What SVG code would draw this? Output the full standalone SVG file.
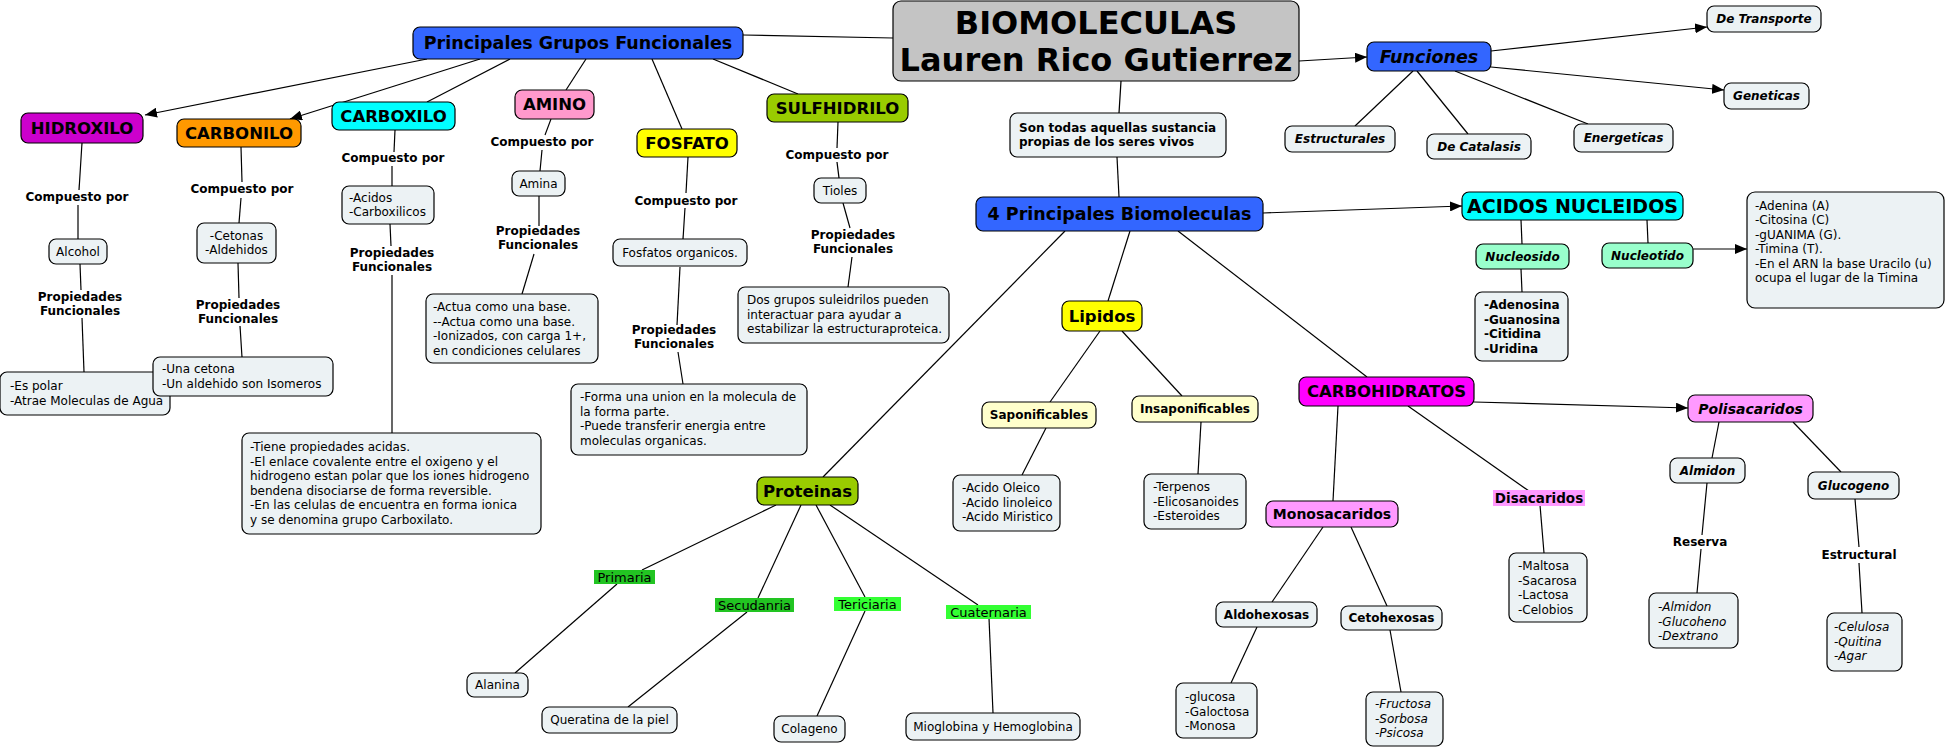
<svg xmlns="http://www.w3.org/2000/svg" width="1947" height="748" viewBox="0 0 1947 748">
<style>
text{font-family:"DejaVu Sans","Verdana",sans-serif;fill:#000}
.t{font-size:12px}
.b{font-size:12px;font-weight:bold}
.bi{font-size:12px;font-weight:bold;font-style:italic}
.i{font-size:12px;font-style:italic}
.c{text-anchor:middle}
.h16{font-size:16.5px;font-weight:bold;text-anchor:middle}
.h17{font-size:17.5px;font-weight:bold;text-anchor:middle}
.box{stroke:#000;stroke-width:1.2}
.w{fill:#ecf2f4}
.con line{stroke:#000;stroke-width:1.2}
</style>
<defs>
<marker id="ar" markerUnits="userSpaceOnUse" markerWidth="13" markerHeight="10" refX="12" refY="5" orient="auto"><path d="M0,0 L12,5 L0,10 z" fill="#000"/></marker>
</defs>
<rect width="1947" height="748" fill="#fff"/>
<g class="con">
<line x1="427" y1="59" x2="145" y2="115" marker-end="url(#ar)"/>
<line x1="480" y1="59" x2="290" y2="119" marker-end="url(#ar)"/>
<line x1="510" y1="59" x2="427" y2="102"/>
<line x1="586" y1="59" x2="566" y2="90"/>
<line x1="652" y1="59" x2="682" y2="129"/>
<line x1="713" y1="59" x2="798" y2="94"/>
<line x1="743" y1="35" x2="893" y2="38"/>
<line x1="82" y1="143" x2="79" y2="190"/>
<line x1="78" y1="205" x2="78" y2="239"/>
<line x1="80" y1="264" x2="81" y2="290"/>
<line x1="82" y1="318" x2="84" y2="372"/>
<line x1="241" y1="147" x2="242" y2="182"/>
<line x1="241" y1="198" x2="239" y2="223"/>
<line x1="238" y1="263" x2="239" y2="298"/>
<line x1="240" y1="326" x2="242" y2="357"/>
<line x1="395" y1="130" x2="394" y2="152"/>
<line x1="392" y1="166" x2="392" y2="186"/>
<line x1="390" y1="224" x2="391" y2="246"/>
<line x1="392" y1="275" x2="392" y2="433"/>
<line x1="551" y1="119" x2="545" y2="135"/>
<line x1="542" y1="150" x2="540" y2="171"/>
<line x1="539" y1="196" x2="539" y2="226"/>
<line x1="534" y1="254" x2="522" y2="294"/>
<line x1="688" y1="157" x2="686" y2="193"/>
<line x1="685" y1="208" x2="683" y2="239"/>
<line x1="680" y1="267" x2="677" y2="325"/>
<line x1="678" y1="352" x2="683" y2="384"/>
<line x1="838" y1="122" x2="837" y2="148"/>
<line x1="837" y1="162" x2="839" y2="178"/>
<line x1="843" y1="203" x2="850" y2="228"/>
<line x1="852" y1="257" x2="848" y2="287"/>
<line x1="1121" y1="81" x2="1119" y2="113"/>
<line x1="1117" y1="157" x2="1119" y2="197"/>
<line x1="1299" y1="61" x2="1367" y2="57" marker-end="url(#ar)"/>
<line x1="1491" y1="51" x2="1707" y2="27" marker-end="url(#ar)"/>
<line x1="1491" y1="67" x2="1724" y2="90" marker-end="url(#ar)"/>
<line x1="1455" y1="71" x2="1588" y2="124"/>
<line x1="1413" y1="71" x2="1355" y2="126"/>
<line x1="1417" y1="71" x2="1468" y2="134"/>
<line x1="1263" y1="213" x2="1462" y2="206" marker-end="url(#ar)"/>
<line x1="1065" y1="231" x2="823" y2="477"/>
<line x1="1130" y1="231" x2="1108" y2="301"/>
<line x1="1178" y1="231" x2="1367" y2="377"/>
<line x1="1521" y1="220" x2="1522" y2="244"/>
<line x1="1647" y1="220" x2="1648" y2="243"/>
<line x1="1693" y1="249" x2="1747" y2="249" marker-end="url(#ar)"/>
<line x1="1521" y1="269" x2="1522" y2="292"/>
<line x1="1100" y1="331" x2="1050" y2="402"/>
<line x1="1122" y1="331" x2="1182" y2="396"/>
<line x1="1046" y1="428" x2="1022" y2="475"/>
<line x1="1201" y1="422" x2="1198" y2="474"/>
<line x1="1474" y1="402" x2="1688" y2="408" marker-end="url(#ar)"/>
<line x1="1338" y1="406" x2="1333" y2="501"/>
<line x1="1408" y1="406" x2="1529" y2="491"/>
<line x1="1540" y1="505" x2="1544" y2="553"/>
<line x1="1323" y1="527" x2="1272" y2="602"/>
<line x1="1351" y1="527" x2="1387" y2="606"/>
<line x1="1257" y1="627" x2="1231" y2="683"/>
<line x1="1390" y1="630" x2="1401" y2="692"/>
<line x1="1719" y1="422" x2="1712" y2="458"/>
<line x1="1793" y1="422" x2="1841" y2="472"/>
<line x1="1707" y1="483" x2="1702" y2="535"/>
<line x1="1701" y1="549" x2="1697" y2="593"/>
<line x1="1855" y1="499" x2="1859" y2="547"/>
<line x1="1859" y1="563" x2="1862" y2="613"/>
<line x1="776" y1="505" x2="642" y2="570"/>
<line x1="617" y1="584" x2="515" y2="673"/>
<line x1="801" y1="505" x2="758" y2="598"/>
<line x1="747" y1="612" x2="628" y2="707"/>
<line x1="816" y1="505" x2="865" y2="597"/>
<line x1="865" y1="611" x2="817" y2="716"/>
<line x1="830" y1="505" x2="978" y2="605"/>
<line x1="989" y1="618" x2="993" y2="713"/>
</g>

<g id="biomoleculas"><rect class="box" x="893" y="1" width="406" height="80" rx="8" fill="#c4c4c4"/><text x="1096" y="34" font-size="32" font-weight="bold" text-anchor="middle">BIOMOLECULAS</text><text x="1096" y="71" font-size="32" font-weight="bold" text-anchor="middle">Lauren Rico Gutierrez</text></g>
<g id="pgf"><rect class="box" x="413" y="27" width="330" height="32" rx="7" fill="#3366ff"/><text class="h17" x="578" y="49">Principales Grupos Funcionales</text></g>
<g id="hidroxilo"><rect class="box" x="21" y="113" width="122" height="30" rx="7" fill="#cc00cc"/><text class="h16" x="82" y="134">HIDROXILO</text></g>
<g id="carbonilo"><rect class="box" x="177" y="119" width="124" height="28" rx="7" fill="#ff9900"/><text class="h16" x="239" y="139">CARBONILO</text></g>
<g id="carboxilo"><rect class="box" x="332" y="102" width="123" height="28" rx="7" fill="#00ffff"/><text class="h16" x="393.5" y="122">CARBOXILO</text></g>
<g id="amino"><rect class="box" x="515" y="90" width="79" height="29" rx="7" fill="#ff99cc"/><text class="h16" x="554.5" y="110">AMINO</text></g>
<g id="fosfato"><rect class="box" x="637" y="129" width="100" height="28" rx="7" fill="#ffff00"/><text class="h16" x="687" y="149">FOSFATO</text></g>
<g id="sulfhidrilo"><rect class="box" x="767" y="94" width="141" height="28" rx="7" fill="#99cc00"/><text class="h16" x="837.5" y="114">SULFHIDRILO</text></g>

<g id="lbl-hid-comp"><text class="b c" x="77" y="201">Compuesto por</text></g>
<g id="lbl-cbn-comp"><text class="b c" x="242" y="193">Compuesto por</text></g>
<g id="lbl-cbx-comp"><text class="b c" x="393" y="162">Compuesto por</text></g>
<g id="lbl-ami-comp"><text class="b c" x="542" y="146">Compuesto por</text></g>
<g id="lbl-fos-comp"><text class="b c" x="686" y="205">Compuesto por</text></g>
<g id="lbl-sul-comp"><text class="b c" x="837" y="159">Compuesto por</text></g>
<g id="lbl-hid-prop"><text class="b c" x="80" y="301">Propiedades</text><text class="b c" x="80" y="315">Funcionales</text></g>
<g id="lbl-cbn-prop"><text class="b c" x="238" y="309">Propiedades</text><text class="b c" x="238" y="323">Funcionales</text></g>
<g id="lbl-cbx-prop"><text class="b c" x="392" y="257">Propiedades</text><text class="b c" x="392" y="271">Funcionales</text></g>
<g id="lbl-ami-prop"><text class="b c" x="538" y="235">Propiedades</text><text class="b c" x="538" y="249">Funcionales</text></g>
<g id="lbl-fos-prop"><text class="b c" x="674" y="334">Propiedades</text><text class="b c" x="674" y="348">Funcionales</text></g>
<g id="lbl-sul-prop"><text class="b c" x="853" y="239">Propiedades</text><text class="b c" x="853" y="253">Funcionales</text></g>

<g id="alcohol"><rect class="box w" x="49" y="239" width="58" height="25" rx="7"/><text class="t c" x="78" y="256">Alcohol</text></g>
<g id="cetonas"><rect class="box w" x="197" y="223" width="79" height="40" rx="7"/><text class="t c" x="236.5" y="240">-Cetonas</text><text class="t c" x="236.5" y="254">-Aldehidos</text></g>
<g id="acidos"><rect class="box w" x="342" y="186" width="92" height="38" rx="7"/><text class="t" x="349" y="202">-Acidos</text><text class="t" x="349" y="216">-Carboxilicos</text></g>
<g id="amina"><rect class="box w" x="512" y="171" width="53" height="25" rx="7"/><text class="t c" x="538.5" y="188">Amina</text></g>
<g id="fosfatos"><rect class="box w" x="613" y="239" width="134" height="27" rx="7"/><text class="t c" x="680" y="257">Fosfatos organicos.</text></g>
<g id="tioles"><rect class="box w" x="814" y="178" width="52" height="25" rx="7"/><text class="t c" x="840" y="195">Tioles</text></g>
<g id="espolar"><rect class="box w" x="0" y="372" width="170" height="43" rx="7"/><text class="t" x="10" y="390">-Es polar</text><text class="t" x="10" y="405">-Atrae Moleculas de Agua</text></g>
<g id="unacetona"><rect class="box w" x="153" y="357" width="180" height="39" rx="7"/><text class="t" x="162" y="373">-Una cetona</text><text class="t" x="162" y="388">-Un aldehido son Isomeros</text></g>
<g id="tiene"><rect class="box w" x="242" y="433" width="299" height="101" rx="7"/><text class="t" x="250" y="451">-Tiene propiedades acidas.</text><text class="t" x="250" y="465.6">-El enlace covalente entre el oxigeno y el</text><text class="t" x="250" y="480.2">hidrogeno estan polar que los iones hidrogeno</text><text class="t" x="250" y="494.8">bendena disociarse de forma reversible.</text><text class="t" x="250" y="509.4">-En las celulas de encuentra en forma ionica</text><text class="t" x="250" y="524">y se denomina grupo Carboxilato.</text></g>
<g id="actua"><rect class="box w" x="426" y="294" width="172" height="69" rx="7"/><text class="t" x="433" y="311">-Actua como una base.</text><text class="t" x="433" y="325.5">--Actua como una base.</text><text class="t" x="433" y="340">-Ionizados, con carga 1+,</text><text class="t" x="433" y="354.5">en condiciones celulares</text></g>
<g id="forma"><rect class="box w" x="571" y="384" width="236" height="71" rx="7"/><text class="t" x="580" y="401">-Forma una union en la molecula de</text><text class="t" x="580" y="415.5"> la forma parte.</text><text class="t" x="580" y="430">-Puede transferir energia entre</text><text class="t" x="580" y="444.5">moleculas organicas.</text></g>
<g id="dosgrupos"><rect class="box w" x="738" y="287" width="211" height="56" rx="7"/><text class="t" x="747" y="304">Dos grupos suleidrilos pueden</text><text class="t" x="747" y="318.5">interactuar para ayudar a</text><text class="t" x="747" y="333">estabilizar la estructuraproteica.</text></g>

<g id="funciones"><rect class="box" x="1367" y="42" width="124" height="29" rx="7" fill="#3366ff"/><text class="h17" x="1429" y="63" font-style="italic">Funciones</text></g>
<g id="transporte"><rect class="box w" x="1707" y="6" width="114" height="26" rx="7"/><text class="bi c" x="1764" y="23">De Transporte</text></g>
<g id="geneticas"><rect class="box w" x="1724" y="83" width="85" height="26" rx="7"/><text class="bi c" x="1766.5" y="100">Geneticas</text></g>
<g id="energeticas"><rect class="box w" x="1574" y="124" width="99" height="28" rx="7"/><text class="bi c" x="1623.5" y="142">Energeticas</text></g>
<g id="estructurales"><rect class="box w" x="1285" y="126" width="110" height="26" rx="7"/><text class="bi c" x="1340" y="143">Estructurales</text></g>
<g id="catalasis"><rect class="box w" x="1427" y="134" width="104" height="25" rx="7"/><text class="bi c" x="1479" y="151">De Catalasis</text></g>
<g id="sontodas"><rect class="box w" x="1010" y="113" width="216" height="44" rx="7"/><text class="b" x="1019" y="132">Son todas aquellas sustancia</text><text class="b" x="1019" y="146">propias de los seres vivos</text></g>
<g id="principales4"><rect class="box" x="976" y="197" width="287" height="34" rx="7" fill="#3366ff"/><text class="h17" x="1119.5" y="220">4 Principales Biomoleculas</text></g>
<g id="acidosnuc"><rect class="box" x="1462" y="192" width="221" height="28" rx="7" fill="#00ffff"/><text x="1572.5" y="213" font-size="19" font-weight="bold" text-anchor="middle">ACIDOS NUCLEIDOS</text></g>
<g id="bases"><rect class="box w" x="1747" y="192" width="197" height="116" rx="8"/><text class="t" x="1755" y="209.5">-Adenina (A)</text><text class="t" x="1755" y="224">-Citosina (C)</text><text class="t" x="1755" y="238.5">-gUANIMA (G).</text><text class="t" x="1755" y="253">-Timina (T).</text><text class="t" x="1755" y="267.5">-En el ARN la base Uracilo (u)</text><text class="t" x="1755" y="282">ocupa el lugar de la Timina</text></g>
<g id="nucleosido"><rect class="box" x="1476" y="244" width="93" height="25" rx="7" fill="#99ffcc"/><text class="bi c" x="1522.5" y="261">Nucleosido</text></g>
<g id="nucleotido"><rect class="box" x="1602" y="243" width="91" height="25" rx="7" fill="#99ffcc"/><text class="bi c" x="1647.5" y="260">Nucleotido</text></g>
<g id="adenosina"><rect class="box w" x="1475" y="292" width="93" height="69" rx="7"/><text class="b" x="1484" y="309">-Adenosina</text><text class="b" x="1484" y="323.5">-Guanosina</text><text class="b" x="1484" y="338">-Citidina</text><text class="b" x="1484" y="352.5">-Uridina</text></g>

<g id="lipidos"><rect class="box" x="1062" y="301" width="80" height="30" rx="7" fill="#ffff00"/><text class="h16" x="1102" y="322">Lipidos</text></g>
<g id="saponificables"><rect class="box" x="982" y="402" width="114" height="26" rx="7" fill="#ffffcc"/><text class="b c" x="1039" y="419">Saponificables</text></g>
<g id="insaponificables"><rect class="box" x="1132" y="396" width="126" height="26" rx="7" fill="#ffffcc"/><text class="b c" x="1195" y="413">Insaponificables</text></g>
<g id="acidooleico"><rect class="box w" x="953" y="475" width="107" height="56" rx="7"/><text class="t" x="962" y="492">-Acido Oleico</text><text class="t" x="962" y="506.5">-Acido linoleico</text><text class="t" x="962" y="521">-Acido Miristico</text></g>
<g id="terpenos"><rect class="box w" x="1144" y="474" width="102" height="55" rx="7"/><text class="t" x="1153" y="491">-Terpenos</text><text class="t" x="1153" y="505.5">-Elicosanoides</text><text class="t" x="1153" y="520">-Esteroides</text></g>

<g id="carbohidratos"><rect class="box" x="1299" y="377" width="175" height="29" rx="7" fill="#ff00ff"/><text class="h16" x="1386.5" y="397">CARBOHIDRATOS</text></g>
<g id="polisacaridos"><rect class="box" x="1688" y="395" width="125" height="27" rx="7" fill="#ff99ff"/><text x="1750.5" y="414" font-size="14" font-weight="bold" font-style="italic" text-anchor="middle">Polisacaridos</text></g>
<g id="almidon"><rect class="box w" x="1670" y="458" width="75" height="25" rx="7"/><text class="bi c" x="1707.5" y="475">Almidon</text></g>
<g id="glucogeno"><rect class="box w" x="1808" y="472" width="91" height="27" rx="7"/><text class="bi c" x="1853.5" y="490">Glucogeno</text></g>
<g id="lbl-reserva"><text class="b c" x="1700" y="546">Reserva</text></g>
<g id="lbl-estructural"><text class="b c" x="1859" y="559">Estructural</text></g>
<g id="almidonlist"><rect class="box w" x="1649" y="593" width="89" height="55" rx="7"/><text class="i" x="1658" y="611">-Almidon</text><text class="i" x="1658" y="625.5">-Glucoheno</text><text class="i" x="1658" y="640">-Dextrano</text></g>
<g id="celulosa"><rect class="box w" x="1827" y="613" width="75" height="58" rx="7"/><text class="i" x="1834" y="631">-Celulosa</text><text class="i" x="1834" y="645.5">-Quitina</text><text class="i" x="1834" y="660">-Agar</text></g>
<g id="disacaridos"><rect x="1493" y="490" width="92" height="16" fill="#ff99ff"/><text x="1539" y="503" font-size="13.5" font-weight="bold" text-anchor="middle">Disacaridos</text></g>
<g id="maltosa"><rect class="box w" x="1509" y="553" width="78" height="69" rx="7"/><text class="t" x="1518" y="570">-Maltosa</text><text class="t" x="1518" y="584.5">-Sacarosa</text><text class="t" x="1518" y="599">-Lactosa</text><text class="t" x="1518" y="613.5">-Celobios</text></g>
<g id="monosacaridos"><rect class="box" x="1266" y="501" width="132" height="26" rx="7" fill="#ff99ff"/><text x="1332" y="519" font-size="14" font-weight="bold" text-anchor="middle">Monosacaridos</text></g>
<g id="aldohexosas"><rect class="box w" x="1216" y="602" width="101" height="25" rx="7"/><text class="b c" x="1266.5" y="619">Aldohexosas</text></g>
<g id="cetohexosas"><rect class="box w" x="1341" y="606" width="101" height="24" rx="7"/><text class="b c" x="1391.5" y="622">Cetohexosas</text></g>
<g id="glucosa"><rect class="box w" x="1176" y="683" width="81" height="55" rx="7"/><text class="t" x="1185" y="701">-glucosa</text><text class="t" x="1185" y="715.5">-Galoctosa</text><text class="t" x="1185" y="730">-Monosa</text></g>
<g id="fructosa"><rect class="box w" x="1366" y="692" width="77" height="54" rx="7"/><text class="i" x="1375" y="708">-Fructosa</text><text class="i" x="1375" y="722.5">-Sorbosa</text><text class="i" x="1375" y="737">-Psicosa</text></g>

<g id="proteinas"><rect class="box" x="757" y="477" width="101" height="28" rx="7" fill="#99cc00"/><text class="h16" x="807.5" y="497">Proteinas</text></g>
<g id="primaria"><rect x="594" y="570" width="61" height="14" fill="#22c422"/><text x="624.5" y="581.5" font-size="13" text-anchor="middle">Primaria</text></g>
<g id="secudanria"><rect x="715" y="598" width="79" height="14" fill="#22c422"/><text x="754.5" y="609.5" font-size="13" text-anchor="middle">Secudanria</text></g>
<g id="tericiaria"><rect x="834" y="597" width="67" height="14" fill="#33ff33"/><text x="867.5" y="608.5" font-size="13" text-anchor="middle">Tericiaria</text></g>
<g id="cuaternaria"><rect x="946" y="605" width="85" height="14" fill="#33ff33"/><text x="988.5" y="616.5" font-size="13" text-anchor="middle">Cuaternaria</text></g>
<g id="alanina"><rect class="box w" x="467" y="673" width="61" height="24" rx="7"/><text class="t c" x="497.5" y="689">Alanina</text></g>
<g id="queratina"><rect class="box w" x="542" y="707" width="135" height="26" rx="7"/><text class="t c" x="609.5" y="724">Queratina de la piel</text></g>
<g id="colageno"><rect class="box w" x="774" y="716" width="71" height="26" rx="7"/><text class="t c" x="809.5" y="733">Colageno</text></g>
<g id="mioglobina"><rect class="box w" x="906" y="713" width="174" height="27" rx="7"/><text class="t c" x="993" y="731">Mioglobina y Hemoglobina</text></g>
</svg>
